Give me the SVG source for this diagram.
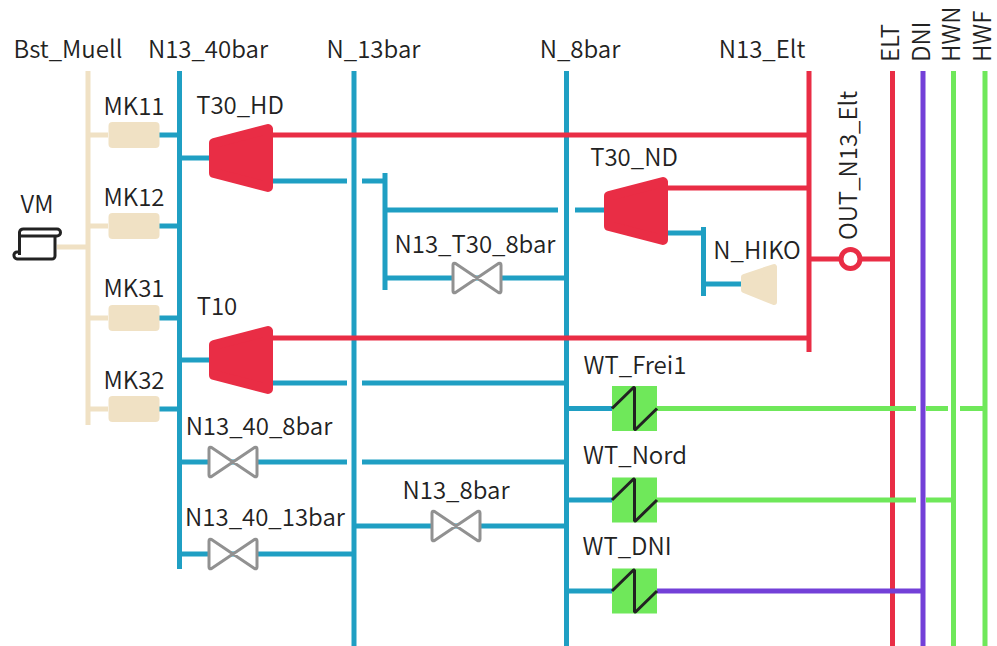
<svg xmlns="http://www.w3.org/2000/svg" width="997" height="646" viewBox="0 0 997 646">
<style>
text{font-family:"Noto Sans CJK SC","Noto Sans","Liberation Sans",sans-serif;font-size:24px;font-weight:350;fill:#222;text-anchor:middle}
.l{fill:none;stroke-width:5}
.b{stroke:#1f9fc3}.r{stroke:#e92d45}.g{stroke:#6fe85a}.p{stroke:#7340d8}.s{stroke:#f0e1c4}
.tu{stroke-linejoin:round;stroke-width:10}
.v{fill:#fff;stroke:#919191;stroke-width:3;stroke-linejoin:round}
.wt{fill:#6fe85a}
.z{fill:none;stroke:#222;stroke-width:3;stroke-linejoin:bevel}
</style>
<defs>
<path id="turb" d="M-27,-15 L27,-29 V29 L-27,15 Z" fill="#e92d45" stroke="#e92d45" class="tu"/>
<path id="valve" d="M-24,-13 Q-24,-15.500 -21.500,-14.500 L21.500,14.500 Q24,15.500 24,13 V-13 Q24,-15.500 21.500,-14.500 L-21.500,14.500 Q-24,15.500 -24,13 Z" class="v"/>
<g id="hx"><rect x="-22.500" y="-22.500" width="45" height="45" class="wt"/><path d="M-22.500,0 L-1,-21 H0 V21 H1 L22.500,0" class="z"/></g>
<rect id="mk" x="-25.500" y="-13" width="51" height="26" rx="4" fill="#f0e1c4"/>
</defs>
<g id="connectors">
<path class="l s" d="M88,71V425M57,247H88M88,135H108M88,226H108M88,318H108M88,409H108"/>
<path class="l b" d="M179.500,71V569M354,71V646M566.500,71V646M159,135H179M159,226H179M159,318H179M159,409H179M179,158H209M273,181H347M362,181H385M385,173V290M385,210H558M575,210H604M385,278H566M667,233H704M703.500,227V296M704,284H741M179,360H209M273,383H347M362,383H566M179,462H347M362,462H566M179,554H354M354,526H566M566,408.500H612M566,500H612M566,591H612"/>
<path class="l r" d="M892.500,71V646M809,71V352M273,135H809M667,188H809M273,338H809M809,259H892"/>
<path class="l g" d="M953.500,71V646M985,71V646M657,408.500H916M926,408.500H948M960,408.500H985M657,500H916M926,500H953"/>
<path class="l p" d="M923,71V646M657,591H923"/>
</g>
<g id="Bst_Muell"><text x="68" y="58">Bst_Muell</text></g>
<g id="N13_40bar"><text x="208" y="58">N13_40bar</text></g>
<g id="N_13bar"><text x="373.500" y="58">N_13bar</text></g>
<g id="N_8bar"><text x="580" y="58">N_8bar</text></g>
<g id="N13_Elt"><text x="762" y="58">N13_Elt</text></g>
<g id="ELT"><text transform="translate(899,62) rotate(-90)" style="text-anchor:start">ELT</text></g>
<g id="DNI"><text transform="translate(930,62) rotate(-90)" style="text-anchor:start">DNI</text></g>
<g id="HWN"><text transform="translate(960,62) rotate(-90)" style="text-anchor:start">HWN</text></g>
<g id="HWF"><text transform="translate(991,62) rotate(-90)" style="text-anchor:start">HWF</text></g>
<g id="VM"><text x="37" y="213">VM</text>
<path d="M19.500,236V232a4,4 0 0 1 4,-3H57a3.500,3.500 0 0 1 0,7H19.500V252M55,236V256a3,3 0 0 1 -3,3H17a3.500,3.500 0 0 1 -3,-4a3,3 0 0 1 3,-3h2.500v3" fill="none" stroke="#222" stroke-width="3" stroke-linejoin="round"/></g>
<g id="MK11"><use href="#mk" x="134" y="135"/><text x="134" y="115">MK11</text></g>
<g id="MK12"><use href="#mk" x="134" y="226"/><text x="134" y="206">MK12</text></g>
<g id="MK31"><use href="#mk" x="134" y="318"/><text x="134" y="297">MK31</text></g>
<g id="MK32"><use href="#mk" x="134" y="409"/><text x="134" y="389">MK32</text></g>
<g id="T30_HD"><use href="#turb" x="241" y="158"/><text x="240" y="113.500">T30_HD</text></g>
<g id="T30_ND"><use href="#turb" x="636" y="211"/><text x="634" y="166">T30_ND</text></g>
<g id="T10"><use href="#turb" x="241" y="360"/><text x="217" y="315">T10</text></g>
<g id="N_HIKO"><path d="M744,277 L774,267 V302 L744,290 Z" fill="#f0e1c4" stroke="#f0e1c4" stroke-width="6" stroke-linejoin="round"/><text x="757" y="259">N_HIKO</text></g>
<g id="OUT_N13_Elt"><circle cx="850.500" cy="259" r="9.500" fill="#fff" stroke="#e92d45" stroke-width="5"/><text transform="translate(857,240) rotate(-90)" style="text-anchor:start">OUT_N13_Elt</text></g>
<g id="N13_T30_8bar"><use href="#valve" x="477" y="278"/><text x="475" y="253">N13_T30_8bar</text></g>
<g id="N13_40_8bar"><use href="#valve" x="233" y="462"/><text x="259" y="435">N13_40_8bar</text></g>
<g id="N13_40_13bar"><use href="#valve" x="233" y="554"/><text x="265" y="526">N13_40_13bar</text></g>
<g id="N13_8bar"><use href="#valve" x="456" y="526"/><text x="456" y="499">N13_8bar</text></g>
<g id="WT_Frei1"><use href="#hx" x="634.500" y="408.500"/><text x="635" y="374">WT_Frei1</text></g>
<g id="WT_Nord"><use href="#hx" x="634.500" y="500"/><text x="635" y="464">WT_Nord</text></g>
<g id="WT_DNI"><use href="#hx" x="634.500" y="591"/><text x="627" y="555">WT_DNI</text></g>
</svg>
